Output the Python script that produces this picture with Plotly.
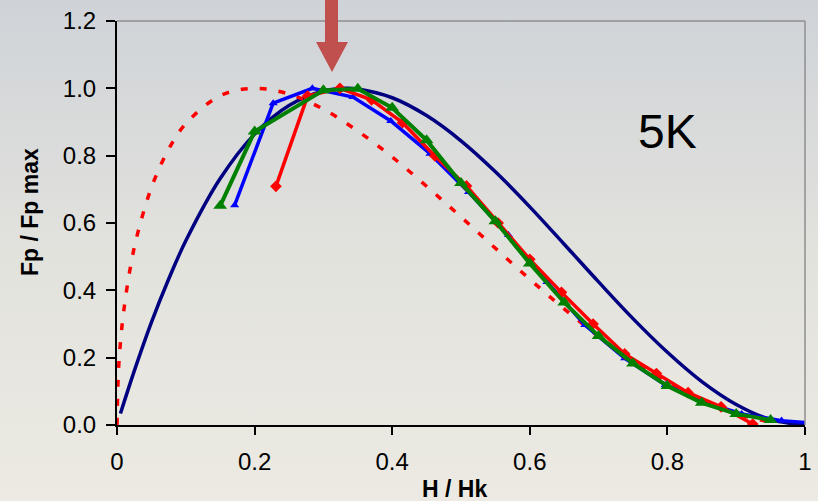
import plotly.graph_objects as go

# ---------------- data ----------------
theory_x = [0.005, 0.025, 0.05, 0.075, 0.10, 0.15, 0.20, 0.25, 0.30, 0.333, 0.35, 0.40, 0.45,
            0.50, 0.55, 0.60, 0.65, 0.70, 0.75, 0.80, 0.85, 0.90, 0.95, 1.00]
theory_y = [0.034, 0.160, 0.305, 0.433, 0.547, 0.732, 0.864, 0.949, 0.992, 1.000, 0.998, 0.972, 0.919,
            0.844, 0.752, 0.648, 0.537, 0.425, 0.316, 0.216, 0.129, 0.061, 0.016, 0.0]

dotted_x = [0.0, 0.002, 0.005, 0.01, 0.02, 0.03, 0.05, 0.075, 0.10, 0.15, 0.20, 0.25, 0.30, 0.35,
            0.40, 0.45, 0.50, 0.55, 0.60, 0.65, 0.70, 0.75, 0.80, 0.85, 0.90, 0.95]
dotted_y = [0.0, 0.156, 0.245, 0.342, 0.475, 0.569, 0.705, 0.819, 0.895, 0.978, 1.000, 0.983, 0.938, 0.873,
            0.796, 0.709, 0.618, 0.525, 0.433, 0.345, 0.263, 0.189, 0.125, 0.073, 0.033, 0.009]

red_x = [0.231, 0.277, 0.324, 0.370, 0.415, 0.462, 0.508, 0.554, 0.600, 0.646, 0.692, 0.738,
         0.784, 0.830, 0.878, 0.924]
red_y = [0.709, 0.977, 1.000, 0.966, 0.898, 0.799, 0.710, 0.600, 0.492, 0.394, 0.300, 0.211,
         0.153, 0.096, 0.054, 0.003]

blue_x = [0.171, 0.227, 0.284, 0.343, 0.398, 0.455, 0.511, 0.569, 0.625, 0.680, 0.738, 0.797,
          0.852, 0.908, 0.966, 1.02]
blue_y = [0.653, 0.956, 1.000, 0.974, 0.903, 0.806, 0.692, 0.564, 0.425, 0.297, 0.198, 0.119,
          0.069, 0.033, 0.013, 0.004]

green_x = [0.15, 0.20, 0.30, 0.35, 0.40, 0.45, 0.50, 0.55, 0.60, 0.65, 0.70, 0.75, 0.80, 0.85,
           0.90, 0.95]
green_y = [0.651, 0.872, 0.994, 0.999, 0.942, 0.846, 0.719, 0.605, 0.480, 0.364, 0.264, 0.183,
           0.116, 0.066, 0.033, 0.015]

x_tickvals = [0, 0.2, 0.4, 0.6, 0.8, 1.0]
x_ticktext = ["0", "0.2", "0.4", "0.6", "0.8", "1"]
y_tickvals = [0, 0.2, 0.4, 0.6, 0.8, 1.0, 1.2]
y_ticktext = ["0.0", "0.2", "0.4", "0.6", "0.8", "1.0", "1.2"]

FONT = "Liberation Sans, Arial, sans-serif"

fig = go.Figure()
fig.add_trace(go.Scatter(x=theory_x, y=theory_y, mode="lines", line=dict(color="#000080", width=3.5, shape="spline"),
                         showlegend=False))
fig.add_trace(go.Scatter(x=dotted_x, y=dotted_y, mode="lines",
                         line=dict(color="#ff0000", width=3.5, dash="7px,12px", shape="spline"), showlegend=False))
fig.add_trace(go.Scatter(x=blue_x, y=blue_y, mode="lines+markers", line=dict(color="#0000ff", width=3.5),
                         marker=dict(symbol="triangle-up", size=8, color="#0000ff"), showlegend=False))
fig.add_trace(go.Scatter(x=red_x, y=red_y, mode="lines+markers", line=dict(color="#ff0000", width=3.5),
                         marker=dict(symbol="diamond", size=9, color="#ff0000"), showlegend=False))
fig.add_trace(go.Scatter(x=green_x, y=green_y, mode="lines+markers", line=dict(color="#008000", width=4),
                         marker=dict(symbol="triangle-up", size=12, color="#008000"), showlegend=False))

# background gradient as an SVG image
svg = ("<svg xmlns='http://www.w3.org/2000/svg' width='818' height='501' preserveAspectRatio='none'>"
       "<defs><linearGradient id='g' x1='0' y1='0' x2='0' y2='1'>"
       "<stop offset='0' stop-color='%23cfd3d8'/><stop offset='0.5' stop-color='%23e2e2dd'/>"
       "<stop offset='1' stop-color='%23eceae2'/></linearGradient></defs>"
       "<rect width='818' height='501' fill='url(%23g)'/></svg>")
src = "data:image/svg+xml;charset=utf-8," + svg.replace("<", "%3C").replace(">", "%3E").replace(" ", "%20")

L, R, T, B = 117, 13, 21, 76
W, H = 818, 501
pw, ph = W - L - R, H - T - B


def px(xp):
    return (xp - L) / pw


def py(yp):
    return (H - B - yp) / ph


fig.add_layout_image(dict(source=src, xref="paper", yref="paper", x=px(0), y=py(0), sizex=W / pw, sizey=H / ph,
                          xanchor="left", yanchor="top", sizing="stretch", layer="below"))

# top & right frame (gray)
fig.add_shape(type="line", xref="paper", yref="paper", x0=0, x1=1, y0=1, y1=1, line=dict(color="#8e8e8e", width=1.5))
fig.add_shape(type="line", xref="paper", yref="paper", x0=1, x1=1, y0=0, y1=1, line=dict(color="#8e8e8e", width=1.5))

# red arrow
path = (f"M {px(325)},{py(0)} L {px(338)},{py(0)} L {px(338)},{py(42)} L {px(348)},{py(42)} "
        f"L {px(332)},{py(72)} L {px(316)},{py(42)} L {px(325)},{py(42)} Z")
fig.add_shape(type="path", xref="paper", yref="paper", path=path, fillcolor="#c0504d",
              line=dict(color="#c0504d", width=0))

fig.add_annotation(x=px(667), y=py(131), xref="paper", yref="paper", text="5K", showarrow=False,
                   xanchor="center", yanchor="middle", font=dict(family=FONT, size=48, color="#000000"))
fig.add_annotation(x=px(454), y=py(489), xref="paper", yref="paper", text="<b>H / Hk</b>", showarrow=False,
                   xanchor="center", yanchor="middle", font=dict(family=FONT, size=23, color="#000000"))
fig.add_annotation(x=px(30), y=py(212), xref="paper", yref="paper", text="<b>Fp / Fp max</b>", showarrow=False,
                   xanchor="center", yanchor="middle", textangle=-90,
                   font=dict(family=FONT, size=23, color="#000000"))

fig.update_layout(
    width=W, height=H, margin=dict(l=L, r=R, t=T, b=B),
    paper_bgcolor="#e2e2dd", plot_bgcolor="rgba(0,0,0,0)",
    font=dict(family=FONT, color="#000000"),
    xaxis=dict(range=[0, 1], tickvals=x_tickvals, ticktext=x_ticktext, ticks="outside", ticklen=8, tickwidth=2,
               tickcolor="#000", showline=True, linecolor="#000", linewidth=2, showgrid=False, zeroline=False,
               automargin=False, ticklabelstandoff=6, tickfont=dict(size=24, family=FONT)),
    yaxis=dict(range=[0, 1.2], tickvals=y_tickvals, ticktext=y_ticktext, ticks="outside", ticklen=9, tickwidth=2,
               tickcolor="#000", showline=True, linecolor="#000", linewidth=2, showgrid=False, zeroline=False,
               automargin=False, ticklabelstandoff=5, tickfont=dict(size=24, family=FONT)),
)

fig.write_html("out.html")
